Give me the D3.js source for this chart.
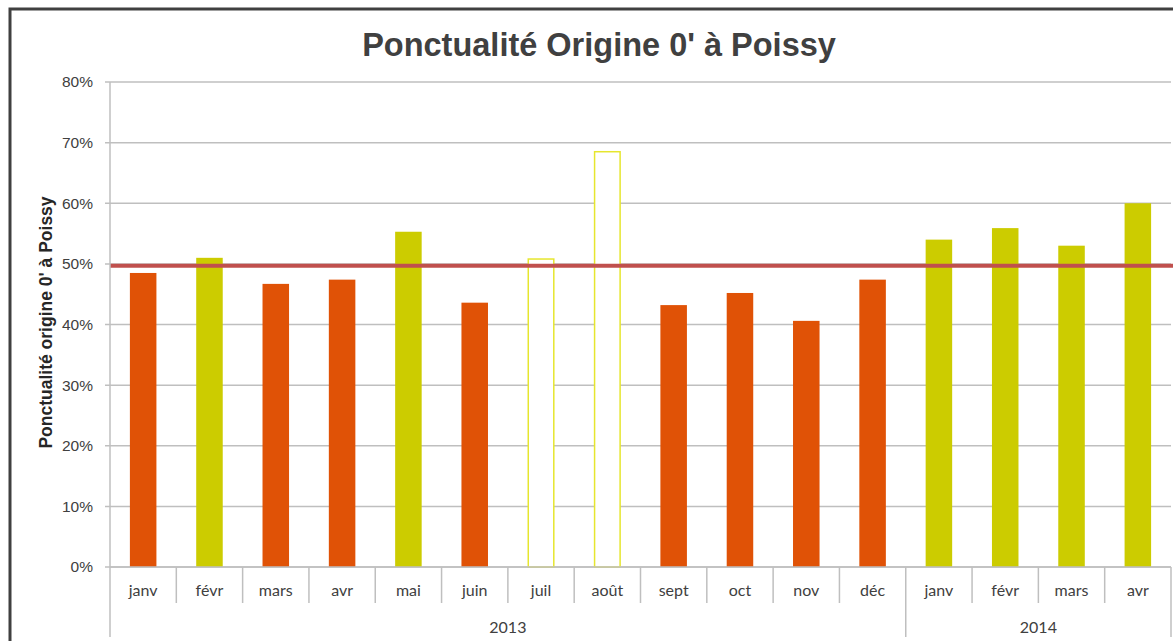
<!DOCTYPE html>
<html>
<head>
<meta charset="utf-8">
<script src="https://cdn.jsdelivr.net/npm/d3@7"></script>
<style>
  body { margin: 0; background: #fff; }
  svg { display: block; }
</style>
</head>
<body>
<div id="chart"></div>
<script>
const months = ['janv', 'févr', 'mars', 'avr', 'mai', 'juin', 'juil', 'août', 'sept', 'oct', 'nov', 'déc', 'janv', 'févr', 'mars', 'avr'];
const years = ['2013', '2013', '2013', '2013', '2013', '2013', '2013', '2013', '2013', '2013', '2013', '2013', '2014', '2014', '2014', '2014'];
const values = [48.5, 51.0, 46.7, 47.4, 55.3, 43.6, 50.8, 68.5, 43.2, 45.2, 40.6, 47.4, 54.0, 55.9, 53.0, 60.0];
// juil / août : barres vides (contour seul)
const hollow = [false, false, false, false, false, false, true, true, false, false, false, false, false, false, false, false];
const target = 49.7;
const yTicks = [0, 10, 20, 30, 40, 50, 60, 70, 80];

const width = 1173;
const height = 641;
const plotLeft = 110, plotRight = 1171, plotTop = 82, plotBottom = 567;

const svg = d3.select('#chart')
  .append('svg')
  .attr('width', width)
  .attr('height', height);

// cadre
svg.append('rect')
  .attr('x', 10).attr('y', 9)
  .attr('width', 1200).attr('height', 700)
  .attr('fill', '#fff')
  .attr('stroke', '#404040')
  .attr('stroke-width', 3);

svg.append('text')
  .text("Ponctualité Origine 0' à Poissy")
  .attr('x', 599).attr('y', 56)
  .attr('text-anchor', 'middle')
  .attr('font-family', 'Liberation Sans, Arial, sans-serif')
  .attr('font-weight', 'bold')
  .attr('font-size', '32.5px')
  .attr('fill', '#404040');

const x = d3.scaleBand()
  .domain(d3.range(months.length))
  .range([plotLeft, plotRight])
  .paddingInner(0.6)
  .paddingOuter(0.3);

const xCell = d3.scaleBand()
  .domain(d3.range(months.length))
  .range([plotLeft, plotRight]);

const y = d3.scaleLinear()
  .domain([0, 80])
  .range([plotBottom, plotTop]);

// grille
svg.append('g')
  .selectAll('line')
  .data(yTicks)
  .join('line')
  .attr('x1', plotLeft - 5).attr('x2', plotRight)
  .attr('y1', d => y(d)).attr('y2', d => y(d))
  .attr('stroke', '#bfbfbf')
  .attr('stroke-width', 1.5);

const yAxis = d3.axisLeft(y)
  .tickValues(yTicks)
  .tickFormat(d => d + '%')
  .tickSize(0)
  .tickPadding(17);

svg.append('g')
  .attr('transform', 'translate(' + plotLeft + ',0)')
  .call(yAxis)
  .call(g => g.select('.domain').remove())
  .selectAll('text')
  .attr('font-family', 'Liberation Sans, Arial, sans-serif')
  .attr('font-size', '15.5px')
  .attr('fill', '#404040');

svg.append('text')
  .text("Ponctualité origine 0' à Poissy")
  .attr('transform', 'translate(52,' + ((plotTop + plotBottom) / 2 - 2) + ') rotate(-90)')
  .attr('text-anchor', 'middle')
  .attr('font-family', 'Liberation Sans, Arial, sans-serif')
  .attr('font-weight', 'bold')
  .attr('font-size', '17.5px')
  .attr('fill', '#262626');

// barres
svg.append('g')
  .selectAll('rect')
  .data(values)
  .join('rect')
  .attr('x', (d, i) => x(i) + (hollow[i] ? 0.5 : 0))
  .attr('y', d => y(d))
  .attr('width', (d, i) => x.bandwidth() - (hollow[i] ? 1 : 0))
  .attr('height', d => y(0) - y(d))
  .attr('fill', (d, i) => hollow[i] ? '#fff' : (d < target ? '#e05206' : '#cccc00'))
  .attr('stroke', (d, i) => hollow[i] ? '#e6e62e' : 'none')
  .attr('stroke-width', 1.5);

// ligne objectif
svg.append('line')
  .attr('x1', plotLeft).attr('x2', plotRight + 2)
  .attr('y1', y(target)).attr('y2', y(target))
  .attr('stroke', '#c0504d')
  .attr('stroke-width', 4);

// axe horizontal multi-niveaux
const axisG = svg.append('g');
axisG.append('line')
  .attr('x1', plotLeft).attr('x2', plotLeft)
  .attr('y1', plotTop).attr('y2', 637)
  .attr('stroke', '#bfbfbf').attr('stroke-width', 1.5);
axisG.append('line')
  .attr('x1', plotLeft).attr('x2', plotRight)
  .attr('y1', plotBottom).attr('y2', plotBottom)
  .attr('stroke', '#bfbfbf').attr('stroke-width', 1.5);

axisG.selectAll('.sep')
  .data(d3.range(1, months.length + 1))
  .join('line')
  .attr('class', 'sep')
  .attr('x1', i => i < months.length ? xCell(i) : plotRight)
  .attr('x2', i => i < months.length ? xCell(i) : plotRight)
  .attr('y1', plotBottom)
  .attr('y2', i => (i < months.length && years[i] !== years[i - 1]) || i === months.length ? 637 : 603)
  .attr('stroke', '#bfbfbf').attr('stroke-width', 1.5);

axisG.selectAll('.month')
  .data(months)
  .join('text')
  .attr('class', 'month')
  .text(d => d)
  .attr('x', (d, i) => xCell(i) + xCell.bandwidth() / 2)
  .attr('y', 596)
  .attr('text-anchor', 'middle')
  .attr('font-family', 'Lato, Carlito, sans-serif')
  .attr('font-size', '16px')
  .attr('fill', '#404040');

const yearGroups = d3.groups(d3.range(months.length), i => years[i]);
axisG.selectAll('.year')
  .data(yearGroups)
  .join('text')
  .attr('class', 'year')
  .text(d => d[0])
  .attr('x', d => (xCell(d[1][0]) + xCell(d[1][d[1].length - 1]) + xCell.bandwidth()) / 2)
  .attr('y', 633)
  .attr('text-anchor', 'middle')
  .attr('font-family', 'Lato, Carlito, sans-serif')
  .attr('font-size', '16px')
  .attr('fill', '#404040');
</script>
</body>
</html>
